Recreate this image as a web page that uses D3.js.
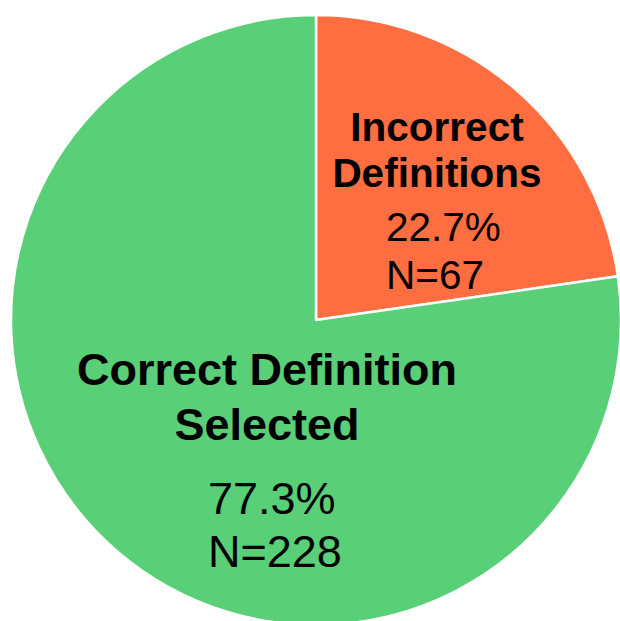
<!DOCTYPE html>
<html>
<head>
<meta charset="utf-8">
<script src="https://cdn.jsdelivr.net/npm/d3@7"></script>
<style>
  html, body { margin: 0; padding: 0; background: #fff; }
  svg { display: block; }
  text { font-family: "Liberation Sans", Arial, Helvetica, sans-serif; fill: #000; }
</style>
</head>
<body>
<div id="chart"></div>
<script>
// data
const categories = ["Incorrect Definitions", "Correct Definition Selected"]
const labelLines = [["Incorrect", "Definitions"], ["Correct Definition", "Selected"]]
const counts = [67, 228]
const percents = ["22.7%", "77.3%"]
const colors = ["#FE6E40", "#59CF78"]

const width = 620, height = 621
const cx = 316, cy = 320, radius = 305

// where each slice's text block sits, relative to the pie centre
const labelLayout = [
    { titleX: 121, titleY: [-179, -133], numX: 70, numY: [-79, -31], size: 40.5 },
    { titleX: -49, titleY: [65, 120], numX: -108, numY: [194, 247], size: 45 }
]

let svg = d3.select("#chart")
    .append("svg")
    .attr("width", width)
    .attr("height", height)

let g = svg.append("g")
    .attr("transform", `translate(${cx}, ${cy})`)

let pie = d3.pie().sort(null).value(function(d) { return d })
let arc = d3.arc().innerRadius(0).outerRadius(radius)

let slices = pie(counts)

g.selectAll("path")
    .data(slices)
    .enter()
    .append("path")
    .attr("d", arc)
    .attr("fill", function(d, i) { return colors[i] })
    .attr("stroke", "#fff")
    .attr("stroke-width", 2.5)
    .attr("stroke-linejoin", "round")

slices.forEach(function(s, i) {
    let lay = labelLayout[i]
    labelLines[i].forEach(function(line, j) {
        g.append("text")
            .attr("x", lay.titleX)
            .attr("y", lay.titleY[j])
            .attr("text-anchor", "middle")
            .style("font-size", lay.size + "px")
            .style("font-weight", "bold")
            .text(line)
    })
    let nums = [percents[i], "N=" + counts[i]]
    nums.forEach(function(line, j) {
        g.append("text")
            .attr("x", lay.numX)
            .attr("y", lay.numY[j])
            .attr("text-anchor", "start")
            .style("font-size", lay.size + "px")
            .text(line)
    })
})
</script>
</body>
</html>
